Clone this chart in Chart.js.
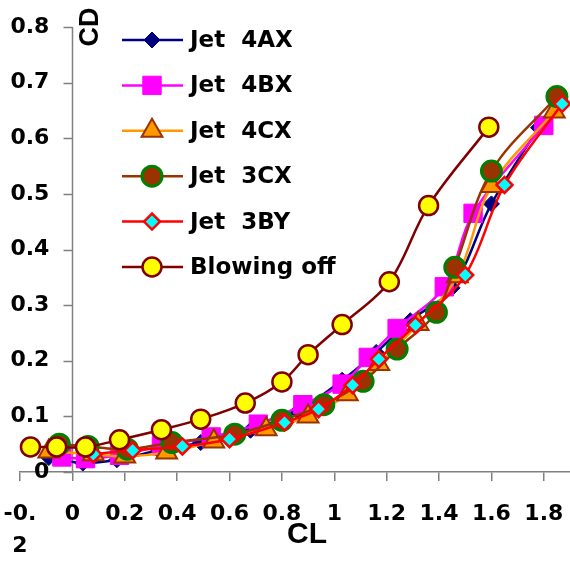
<!DOCTYPE html>
<html>
<head>
<meta charset="utf-8">
<script src="https://cdn.jsdelivr.net/npm/chart.js@4"></script>
<style>
  body { margin: 0; background: #fff; }
  #wrap { width: 570px; height: 561px; }
</style>
</head>
<body>
<div id="wrap"><canvas id="myChart" width="570" height="561"></canvas></div>
<script>
// values (CL on x, CD on y)
const seriesNames = ['Jet  4AX', 'Jet  4BX', 'Jet  4CX', 'Jet  3CX', 'Jet  3BY', 'Blowing off'];

const jet4axCL = [-0.09, 0.04, 0.17, 0.33, 0.49, 0.68, 0.86, 1.03, 1.16, 1.29, 1.45, 1.60, 1.78];
const jet4axCD = [0.026, 0.016, 0.022, 0.039, 0.053, 0.075, 0.109, 0.165, 0.215, 0.272, 0.331, 0.482, 0.619];

const jet4bxCL = [-0.04, 0.05, 0.18, 0.34, 0.53, 0.71, 0.88, 1.03, 1.13, 1.24, 1.42, 1.53, 1.80];
const jet4bxCD = [0.027, 0.024, 0.030, 0.047, 0.063, 0.086, 0.121, 0.158, 0.206, 0.258, 0.333, 0.465, 0.623];

const jet4cxCL = [-0.09, 0.08, 0.20, 0.36, 0.54, 0.74, 0.90, 1.05, 1.17, 1.32, 1.47, 1.60, 1.84];
const jet4cxCD = [0.037, 0.032, 0.028, 0.035, 0.055, 0.077, 0.100, 0.140, 0.194, 0.266, 0.352, 0.514, 0.648];

const jet3cxCL = [-0.05, 0.06, 0.21, 0.38, 0.62, 0.80, 0.96, 1.11, 1.24, 1.39, 1.46, 1.60, 1.85];
const jet3cxCD = [0.050, 0.046, 0.041, 0.053, 0.068, 0.093, 0.121, 0.163, 0.221, 0.287, 0.368, 0.541, 0.675];

const jet3byCL = [0.08, 0.23, 0.42, 0.60, 0.81, 0.94, 1.07, 1.17, 1.31, 1.50, 1.65, 1.87];
const jet3byCD = [0.032, 0.039, 0.046, 0.059, 0.089, 0.113, 0.156, 0.203, 0.264, 0.354, 0.516, 0.662];

const blowOffCL = [-0.16, -0.06, 0.05, 0.18, 0.34, 0.49, 0.66, 0.80, 0.90, 1.03, 1.21, 1.36, 1.59];
const blowOffCD = [0.045, 0.045, 0.045, 0.058, 0.076, 0.095, 0.124, 0.162, 0.211, 0.265, 0.342, 0.479, 0.620];

const xTicks = [-0.2, 0, 0.2, 0.4, 0.6, 0.8, 1, 1.2, 1.4, 1.6, 1.8];
const yTicks = [0, 0.1, 0.2, 0.3, 0.4, 0.5, 0.6, 0.7, 0.8];

function pts(xs, ys) {
	return xs.map((x, i) => ({ x: x, y: ys[i] }));
}

// marker / line styles, same order as seriesNames
const styles = [
	{ line: '#000080', fill: '#000080', border: '#000080', shape: 'rectRot', r: 8, bw: 1 },
	{ line: '#FF00FF', fill: '#FF00FF', border: '#FF00FF', shape: 'rect', r: 13, bw: 1 },
	{ line: '#FF9900', fill: '#FF9900', border: '#993300', shape: 'triangle', r: 12, bw: 2 },
	{ line: '#993300', fill: '#993300', border: '#008000', shape: 'circle', r: 10, bw: 3 },
	{ line: '#FF0000', fill: '#00FFFF', border: '#FF0000', shape: 'rectRot', r: 8, bw: 2.5 },
	{ line: '#800000', fill: '#FFFF00', border: '#800000', shape: 'circle', r: 9.5, bw: 2.5 },
];

const allPoints = [
	pts(jet4axCL, jet4axCD),
	pts(jet4bxCL, jet4bxCD),
	pts(jet4cxCL, jet4cxCD),
	pts(jet3cxCL, jet3cxCD),
	pts(jet3byCL, jet3byCD),
	pts(blowOffCL, blowOffCD),
];

const datasets = seriesNames.map((name, i) => ({
	label: name,
	data: allPoints[i],
	borderColor: styles[i].line,
	borderWidth: 2.5,
	backgroundColor: styles[i].fill,
	pointBackgroundColor: styles[i].fill,
	pointBorderColor: styles[i].border,
	pointBorderWidth: styles[i].bw,
	pointStyle: styles[i].shape,
	pointRadius: styles[i].r,
	tension: 0.35,
	clip: false,
	order: seriesNames.length - i, // later series on top, like the original
}));

const axisGray = '#808080';

// y axis line + tick marks at CL = 0 (the axis crosses there)
const yAxisAtZero = {
	id: 'yAxisAtZero',
	beforeDatasetsDraw(chart) {
		const ctx = chart.ctx;
		const xs = chart.scales.x;
		const ys = chart.scales.y;
		const x0 = Math.round(xs.getPixelForValue(0)) + 0.5;
		ctx.save();
		ctx.strokeStyle = axisGray;
		ctx.lineWidth = 1.5;
		ctx.beginPath();
		ctx.moveTo(x0, ys.getPixelForValue(0.8));
		ctx.lineTo(x0, ys.getPixelForValue(0));
		yTicks.forEach((v) => {
			const y = Math.round(ys.getPixelForValue(v)) + 0.5;
			ctx.moveTo(x0 - 9, y);
			ctx.lineTo(x0, y);
		});
		ctx.stroke();
		ctx.restore();
	},
};

// legend inside the plot + axis titles
const decorations = {
	id: 'decorations',
	afterDraw(chart) {
		const ctx = chart.ctx;
		ctx.save();
		seriesNames.forEach((name, i) => {
			const s = styles[i];
			const y = 40 + i * 45.4;
			ctx.strokeStyle = s.line;
			ctx.lineWidth = 2.5;
			ctx.beginPath();
			ctx.moveTo(122, y);
			ctx.lineTo(183, y);
			ctx.stroke();
			ctx.fillStyle = s.fill;
			ctx.strokeStyle = s.border;
			ctx.lineWidth = s.bw;
			Chart.helpers.drawPoint(ctx, { pointStyle: s.shape, radius: s.r, borderWidth: s.bw, rotation: 0 }, 152, y);
			ctx.fillStyle = '#000';
			ctx.font = 'bold 23px "DejaVu Sans"';
			ctx.textAlign = 'left';
			ctx.textBaseline = 'middle';
			ctx.fillText(name, 190, y + 1);
		});
		// axis titles
		ctx.fillStyle = '#000';
		ctx.font = 'bold 30px "Liberation Sans"';
		ctx.textAlign = 'center';
		ctx.textBaseline = 'middle';
		ctx.fillText('CL', 307, 535);
		ctx.translate(90, 27);
		ctx.rotate(-Math.PI / 2);
		ctx.font = 'bold 27px "Liberation Sans"';
		ctx.fillText('CD', 0, 1);
		ctx.restore();
	},
};

const tickFont = { family: 'DejaVu Sans', size: 22, weight: 'bold', lineHeight: 1.45 };

const config = {
	type: 'line',
	data: { datasets: datasets },
	options: {
		responsive: false,
		animation: false,
		layout: { autoPadding: false, padding: { left: 20, right: 0, top: 27, bottom: 3 } },
		plugins: {
			legend: { display: false },
			tooltip: { enabled: false },
		},
		scales: {
			x: {
				type: 'linear',
				min: -0.2,
				max: 1.9,
				afterBuildTicks: (axis) => { axis.ticks = xTicks.map((v) => ({ value: v })); },
				afterFit: (axis) => {
					axis.paddingLeft = 0;
					axis.paddingRight = 0;
					axis.height = 86;
				},
				ticks: {
					color: '#000',
					font: tickFont,
					padding: 17,
					maxRotation: 0,
					autoSkip: false,
					callback: (v) => {
						if (Math.abs(v + 0.2) < 1e-9) return ['-0.', '2'];
						if (Math.abs(v) < 1e-9) return '0';
						if (Math.abs(v - 1) < 1e-9) return '1';
						return v.toFixed(1);
					},
				},
				grid: { display: true, drawOnChartArea: false, drawTicks: true, tickLength: 9, color: axisGray, lineWidth: 1.5 },
				border: { display: true, color: axisGray, width: 1.5 },
			},
			y: {
				type: 'linear',
				position: { x: 0 },
				min: 0,
				max: 0.8,
				afterBuildTicks: (axis) => { axis.ticks = yTicks.map((v) => ({ value: v })); },
				afterFit: (axis) => {
					axis.paddingTop = 0;
					axis.paddingBottom = 0;
				},
				ticks: {
					color: '#000',
					font: tickFont,
					autoSkip: false,
					// labels sit right against the axis when it is placed by value, so leave room for the tick marks
					callback: (v) => (Math.abs(v) < 1e-9 ? '0' : v.toFixed(1)) + '   ',
				},
				grid: { display: false },
				border: { display: false },
			},
		},
	},
	plugins: [yAxisAtZero, decorations],
};

const context = document.getElementById('myChart').getContext('2d');
const chart = new Chart(context, config);
</script>
</body>
</html>
